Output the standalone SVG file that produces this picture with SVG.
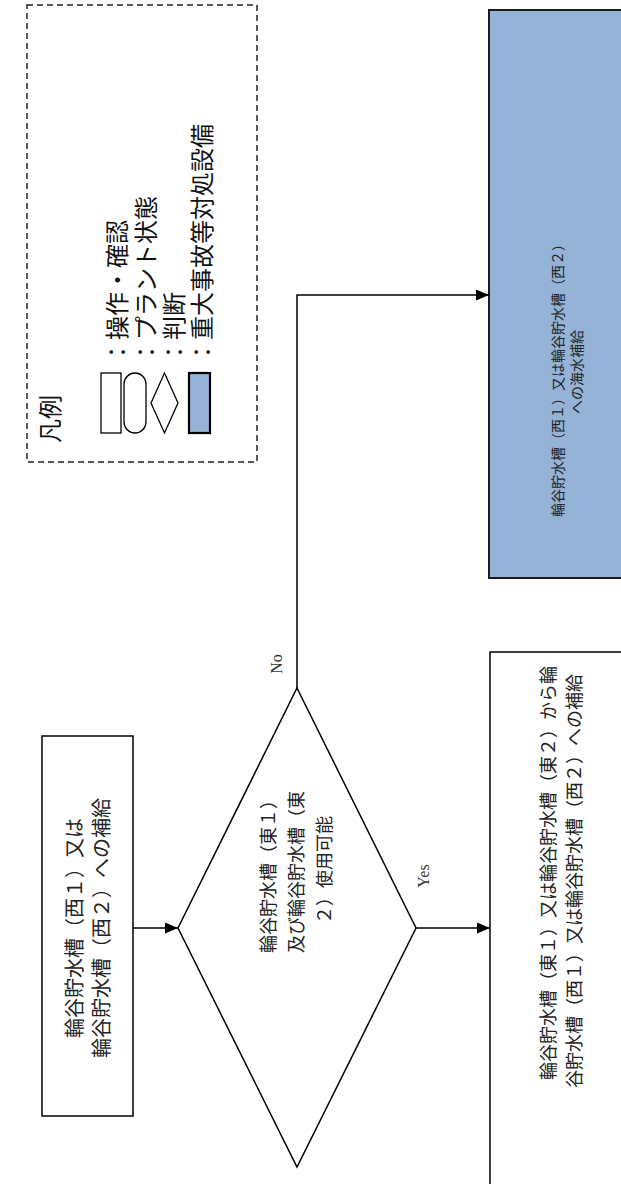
<svg xmlns="http://www.w3.org/2000/svg" width="621" height="1184" viewBox="0 0 621 1184">
<style>
.box{fill:#ffffff;stroke:#000;stroke-width:1.5}
.blue{fill:#95B3D7;stroke:#1a1a1a;stroke-width:2}
.line{fill:none;stroke:#000;stroke-width:1.5}
.jp{font-family:"Noto Sans CJK JP","Noto Sans CJK SC",sans-serif;font-size:18px;fill:#222}
.lg{font-family:"Noto Sans CJK JP","Noto Sans CJK SC",sans-serif;font-size:24px;fill:#111}
.en{font-family:"Liberation Serif",serif;font-size:16px;fill:#333}
</style>
<defs>
<marker id="arr" viewBox="0 0 13 11" refX="13" refY="5.5" markerWidth="13" markerHeight="11" markerUnits="userSpaceOnUse" orient="auto">
<path d="M0,0 L13,5.5 L0,11 z" fill="#000"/>
</marker>
</defs>
<g id="legend">
<rect x="27" y="5" width="230" height="457" fill="none" stroke="#222" stroke-width="1.5" stroke-dasharray="6,4"/>
<text class="lg" transform="translate(48,443) rotate(-90)" dominant-baseline="central">凡例</text>
<rect x="101" y="373" width="20" height="60" fill="#fff" stroke="#000" stroke-width="1.3"/>
<rect x="124" y="373" width="22" height="60" rx="11" ry="11" fill="#fff" stroke="#000" stroke-width="1.3"/>
<polygon points="164.5,373 178,403 164.5,433 151,403" fill="#fff" stroke="#000" stroke-width="1.3"/>
<rect x="189" y="373" width="21" height="60" fill="#95B3D7" stroke="#000" stroke-width="2.2"/>
<text class="lg" transform="translate(115,364) rotate(-90)" dominant-baseline="central">：操作・確認</text>
<text class="lg" transform="translate(144,364) rotate(-90)" dominant-baseline="central">：プラント状態</text>
<text class="lg" transform="translate(172,364) rotate(-90)" dominant-baseline="central">：判断</text>
<text class="lg" transform="translate(200,364) rotate(-90)" dominant-baseline="central">：重大事故等対処設備</text>
</g>
<g id="node-start">
<rect class="box" x="42" y="736" width="91" height="380"/>
<text class="jp" style="font-size:20px" transform="translate(73,928) rotate(-90)" text-anchor="middle" dominant-baseline="central">輪谷貯水槽（西１）又は</text>
<text class="jp" style="font-size:20px" transform="translate(100,928) rotate(-90)" text-anchor="middle" dominant-baseline="central">輪谷貯水槽（西２）への補給</text>
</g>
<g id="node-decision">
<polygon class="box" points="297,688 416,928 297,1167 178,928"/>
<text class="jp" transform="translate(267,872) rotate(-90)" text-anchor="middle" dominant-baseline="central">輪谷貯水槽（東１）</text>
<text class="jp" transform="translate(295,872) rotate(-90)" text-anchor="middle" dominant-baseline="central">及び輪谷貯水槽（東</text>
<text class="jp" transform="translate(323,870) rotate(-90)" text-anchor="middle" dominant-baseline="central">２）使用可能</text>
</g>
<g id="node-seawater">
<rect class="blue" x="489" y="10" width="150" height="568"/>
<text class="jp" style="font-size:14px" transform="translate(557,377) rotate(-90)" text-anchor="middle" dominant-baseline="central">輪谷貯水槽（西１）又は輪谷貯水槽（西２）</text>
<text class="jp" style="font-size:14px" transform="translate(576,372) rotate(-90)" text-anchor="middle" dominant-baseline="central">への海水補給</text>
</g>
<g id="node-transfer">
<rect class="box" x="490" y="652" width="150" height="560"/>
<text class="jp" transform="translate(547,873) rotate(-90)" text-anchor="middle" dominant-baseline="central">輪谷貯水槽（東１）又は輪谷貯水槽（東２）から輪</text>
<text class="jp" transform="translate(573,881) rotate(-90)" text-anchor="middle" dominant-baseline="central">谷貯水槽（西１）又は輪谷貯水槽（西２）への補給</text>
</g>
<g id="connectors">
<line class="line" x1="133" y1="928" x2="178" y2="928" marker-end="url(#arr)"/>
<polyline class="line" points="297,688 297,295 489,295" marker-end="url(#arr)"/>
<line class="line" x1="416" y1="928" x2="490" y2="928" marker-end="url(#arr)"/>
<text class="en" transform="translate(276,664) rotate(-90)" text-anchor="middle" dominant-baseline="central">No</text>
<text class="en" transform="translate(423,876) rotate(-90)" text-anchor="middle" dominant-baseline="central">Yes</text>
</g>
</svg>
